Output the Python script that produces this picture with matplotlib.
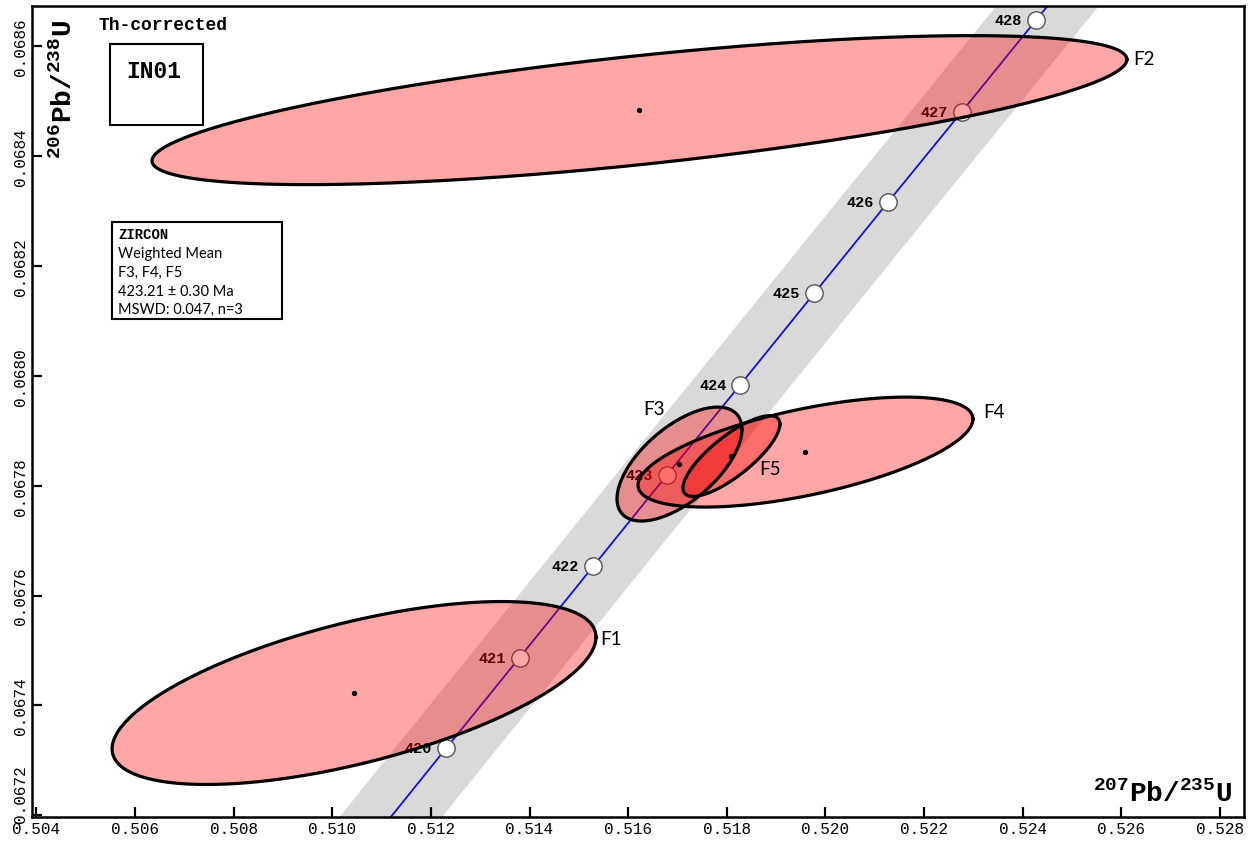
import numpy as np
import matplotlib
matplotlib.use('Agg')
import matplotlib.pyplot as plt
from matplotlib.patches import Rectangle
from matplotlib.ticker import FormatStrFormatter, MultipleLocator
from matplotlib.transforms import ScaledTranslation

# concordia age marks (Ma) and their ratios
ages = [419, 420, 421, 422, 423, 424, 425, 426, 427, 428, 429]
conc_x = [0.510820, 0.512308, 0.513798, 0.515290, 0.516783, 0.518277,
          0.519773, 0.521271, 0.522770, 0.524270, 0.525773]
conc_y = [0.067156, 0.067322, 0.067487, 0.067653, 0.067819, 0.067984,
          0.068150, 0.068316, 0.068481, 0.068647, 0.068813]
labelled = [420, 421, 422, 423, 424, 425, 426, 427, 428]
band_dx = 0.00104   # half width of the decay-constant error band

# analyses (2 sigma ellipses)
names = ['F1', 'F2', 'F3', 'F4', 'F5']
ell_x = [0.510441, 0.516229, 0.517041, 0.519596, 0.518095]
ell_y = [0.0674226, 0.0684835, 0.0678393, 0.0678611, 0.0678539]
err_x = [0.004907, 0.009885, 0.001267, 0.003396, 0.000983]
err_y = [0.0001665, 0.0001356, 0.0001037, 0.0001001, 0.0000735]
rho = [0.61, 0.68, 0.61, 0.60, 0.79]

info_lines = ['Weighted Mean', 'F3, F4, F5', '423.21 \u00b1 0.30 Ma', 'MSWD: 0.047, n=3']

mono = 'Liberation Mono'
sans = 'Lato'
plt.rcParams['mathtext.fontset'] = 'custom'
plt.rcParams['mathtext.rm'] = 'Liberation Mono:bold'
plt.rcParams['mathtext.bf'] = 'Liberation Mono:bold'

fig = plt.figure(figsize=(12.5, 8.45), dpi=100)
ax = fig.add_axes([0.0256, 0.032, 0.9696, 0.9597])
ax.set_xlim(0.50391, 0.52849)
ax.set_ylim(0.067197, 0.068673)

# error band + concordia
cx = np.array(conc_x)
ax.fill_betweenx(conc_y, cx - band_dx, cx + band_dx, color='#d9d9d9', lw=0, zorder=1)
ax.plot(conc_x, conc_y, color='#1010d8', lw=1.3, zorder=2)
for a, x, y in zip(ages, conc_x, conc_y):
    if a in labelled:
        ax.plot(x, y, 'o', ms=12.5, mfc='white', mec='#555555', mew=1.0, zorder=3)
        ax.annotate(str(a), (x, y), xytext=(-10, 0), textcoords='offset points',
                    ha='right', va='center', fontsize=11, fontfamily=mono,
                    fontweight='bold', color='black', zorder=3)

# ellipses
t = np.linspace(0, 2 * np.pi, 400)
label_off = {'F1': (185, 39), 'F2': (363, 37), 'F3': (-18, 40), 'F4': (136, 29), 'F5': (28, -9)}
for n, x0, y0, sx, sy, r in zip(names, ell_x, ell_y, err_x, err_y, rho):
    ex = x0 + sx * np.cos(t)
    ey = y0 + sy * (r * np.cos(t) + np.sqrt(1 - r ** 2) * np.sin(t))
    ax.fill(ex, ey, color=(1, 0, 0, 0.35), lw=0, zorder=4)
    ax.plot(ex, ey, color='black', lw=2.3, zorder=5)
    ax.plot(x0, y0, 'o', ms=2.8, color='black', zorder=6)
    ax.annotate(n, (x0, y0), xytext=label_off[n], textcoords='offset points',
                ha='center', va='center', fontsize=13.5, fontfamily=sans, zorder=6)

# axes styling
for s in ax.spines.values():
    s.set_linewidth(1.8)
ax.xaxis.set_major_locator(MultipleLocator(0.002))
ax.yaxis.set_major_locator(MultipleLocator(0.0002))
ax.xaxis.set_major_formatter(FormatStrFormatter('%.3f'))
ax.yaxis.set_major_formatter(FormatStrFormatter('%.4f'))
ax.tick_params(direction='in', length=7, width=1.6, labelsize=11.5, pad=3)
for lab in ax.get_xticklabels() + ax.get_yticklabels():
    lab.set_fontfamily(mono)
plt.setp(ax.get_yticklabels(), rotation=90, va='center')

ax.text(0.990, 0.012, r'$^{207}$Pb/$^{235}$U', transform=ax.transAxes, ha='right',
        va='bottom', fontsize=20, fontfamily=mono, fontweight='bold')
ax.text(0.0268, 0.898, r'$^{206}$Pb/$^{238}$U', transform=ax.transAxes, ha='center',
        va='center', rotation=90, fontsize=20, fontfamily=mono, fontweight='bold')
ax.text(0.0545, 0.9766, 'Th-corrected', transform=ax.transAxes, ha='left', va='center',
        fontsize=13, fontfamily=mono, fontweight='bold')

ax.add_patch(Rectangle((0.0644, 0.8533), 0.0767, 0.0999, transform=ax.transAxes,
                       fill=False, lw=1.5, ec='black', zorder=7))
ax.text(0.1007, 0.9199, 'IN01', transform=ax.transAxes, ha='center', va='center',
        fontsize=16.5, fontfamily=mono, fontweight='bold', zorder=7)

ax.add_patch(Rectangle((0.066, 0.6141), 0.1403, 0.1196, transform=ax.transAxes,
                       fc='white', lw=1.5, ec='black', zorder=7))
ax.text(0.071, 0.7190, 'ZIRCON', transform=ax.transAxes, ha='left', va='center',
        fontsize=10, fontfamily=mono, fontweight='bold', zorder=8)
for i, line in enumerate(info_lines):
    ax.text(0.071, 0.6955 - i * 0.0232, line, transform=ax.transAxes, ha='left',
            va='center', fontsize=10.5, fontfamily=sans, zorder=8)

# lift the corner y label a little so it clears the first x label
fig.canvas.draw()
for tick in ax.yaxis.get_major_ticks():
    if abs(tick.get_loc() - 0.0672) < 1e-7:
        lab = tick.label1
        lab.set_transform(lab.get_transform() + ScaledTranslation(0, 16 / 72, fig.dpi_scale_trans))

fig.savefig('out.png', dpi=100)
